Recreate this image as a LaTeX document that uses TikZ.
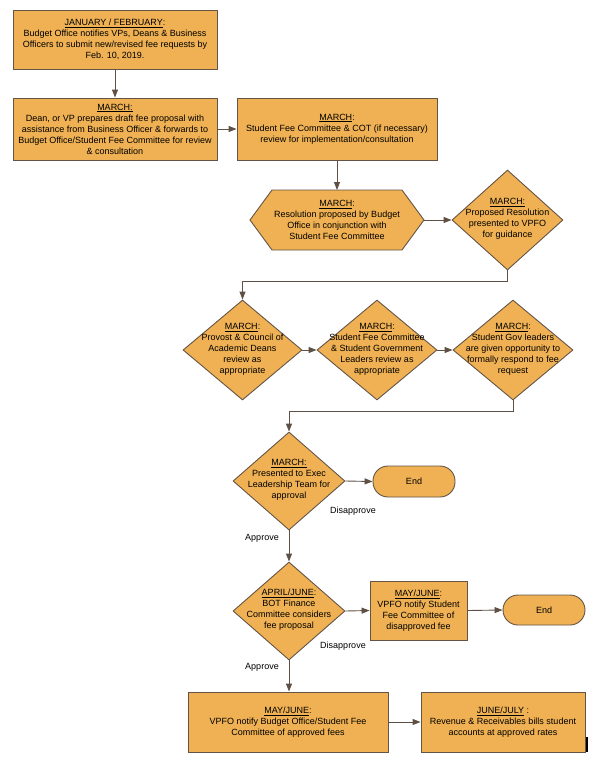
\documentclass[tikz,border=0pt]{standalone}
\usepackage{fontspec}
\setmainfont{Liberation Sans}
\usetikzlibrary{shapes.geometric,arrows.meta}
\definecolor{boxfill}{RGB}{239,177,83}
\definecolor{boxline}{RGB}{100,84,70}
\definecolor{conn}{RGB}{95,80,70}
\tikzset{
  base/.style={draw=boxline, fill=boxfill, line width=0.9pt, inner sep=0pt},
  stepbox/.style={base, rectangle, align=center, font=\fontsize{9}{11}\selectfont},
  dia/.style={base, diamond},
  endbox/.style={base, rectangle, rounded corners=15pt, font=\fontsize{9}{11}\selectfont},
  txt/.style={align=center, inner sep=0pt, font=\fontsize{9}{11}\selectfont},
  lbl/.style={inner sep=0pt, font=\fontsize{9}{11}\selectfont},
  conn/.style={draw=conn, line width=0.9pt, -{Triangle[length=8pt,width=6pt]}},
}
\begin{document}
\begin{tikzpicture}[x=1pt,y=-1pt]
\useasboundingbox (0,0) rectangle (595,763);
% boxes
\node[stepbox, minimum width=204, minimum height=59] (b1) at (115,39.5)
  {\underline{JANUARY / FEBRUARY}:\\Budget Office notifies VPs, Deans \& Business\\Officers to submit new/revised fee requests by\\Feb. 10, 2019.};
\node[stepbox, minimum width=204, minimum height=62] (b2) at (115,129)
  {\underline{MARCH:}\\Dean, or VP prepares draft fee proposal with\\assistance from Business Officer \& forwards to\\Budget Office/Student Fee Committee for review\\\& consultation};
\node[stepbox, minimum width=200, minimum height=62] (b3) at (337,129)
  {\underline{MARCH}:\\Student Fee Committee \& COT (if necessary)\\review for implementation/consultation};
% hexagon
\draw[base] (250,220) -- (272,190) -- (402,190) -- (424,220) -- (402,250) -- (272,250) -- cycle;
\coordinate (hexN) at (337,190);
\coordinate (hexE) at (424,220);
\node[txt] (hex) at (337,220)
  {\underline{MARCH}:\\Resolution proposed by Budget\\Office in conjunction with\\Student Fee Committee};
% diamonds
\node[dia, minimum width=111, minimum height=100] (d1) at (507.5,220) {};
\node[txt] (d1t) at (507.5,219) {\underline{MARCH:}\\Proposed Resolution\\presented to VPFO\\for guidance};
\node[dia, minimum width=119, minimum height=100] (d2) at (242.5,350) {};
\node[txt] (d2t) at (242.5,349) {\underline{MARCH}:\\Provost \& Council of\\Academic Deans\\review as\\appropriate};
\node[dia, minimum width=120, minimum height=100] (d3) at (377,350) {};
\node[txt] (d3t) at (377,349) {\underline{MARCH}:\\Student Fee Committee\\\& Student Government\\Leaders review as\\appropriate};
\node[dia, minimum width=120, minimum height=100] (d4) at (513,350) {};
\node[txt] (d4t) at (513,349) {\underline{MARCH}:\\Student Gov leaders\\are given opportunity to\\formally respond to fee\\request};
\node[dia, minimum width=112, minimum height=98] (d5) at (289,481) {};
\node[txt] (d5t) at (289,480) {\underline{MARCH:}\\Presented to Exec\\Leadership Team for\\approval};
\node[endbox, minimum width=82, minimum height=31] (e1) at (414,481.5) {End};
\node[dia, minimum width=112, minimum height=98] (d6) at (289,611) {};
\node[txt] (d6t) at (289,610) {\underline{APRIL/JUNE}:\\BOT Finance\\Committee considers\\fee proposal};
\node[stepbox, minimum width=97, minimum height=59] (b12) at (418.5,610.5)
  {\underline{MAY/JUNE}:\\VPFO notify Student\\Fee Committee of\\disapproved fee};
\node[endbox, minimum width=82, minimum height=30] (e2) at (544,610) {End};
\node[stepbox, minimum width=200, minimum height=60] (b14) at (288,722)
  {\underline{MAY/JUNE}:\\VPFO notify Budget Office/Student Fee\\Committee of approved fees};
\node[stepbox, minimum width=164, minimum height=60] (b15) at (503,722)
  {\underline{JUNE/JULY} :\\Revenue \& Receivables bills student\\accounts at approved rates};
% connectors
\draw[conn] (b1.south) -- (b2.north);
\draw[conn] (b2.east) -- (b3.west);
\draw[conn] (b3.south) -- (hexN);
\draw[conn] (hexE) -- (d1.west);
\draw[conn] (d1.south) -- ++(0,11) -| (d2.north);
\draw[conn] (d2.east) -- (d3.west);
\draw[conn] (d3.east) -- (d4.west);
\draw[conn] (d4.south) -- ++(0,11) -| (d5.north);
\draw[conn] (d5.east) -- (e1.west);
\draw[conn] (d5.south) -- (d6.north);
\draw[conn] (d6.east) -- (b12.west);
\draw[conn] (b12.east) -- (e2.west);
\draw[conn] (d6.south) -- (d6.south |- b14.north);
\draw[conn] (b14.east) -- (b15.west);
% labels
\node[lbl] (l1) at (353,511) {Disapprove};
\node[lbl] (l2) at (262,538) {Approve};
\node[lbl] (l3) at (343,646) {Disapprove};
\node[lbl] (l4) at (262,667) {Approve};
% stray mark
\coordinate (m1) at (587,737);
\coordinate (m2) at (587,752);
\draw[black, line width=1.2pt] (m1) -- (m2);
\end{tikzpicture}
\end{document}
